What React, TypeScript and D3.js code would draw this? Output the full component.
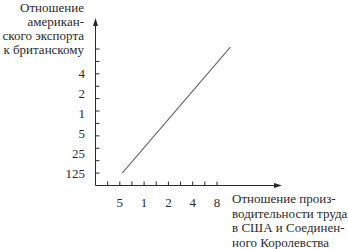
import React from "react";
import * as d3 from "d3";

const W = 348;
const H = 249;

// x ticks (index units) and their labels
const xTickIdx = [1, 2, 3, 4, 5, 6, 7, 8, 9, 10];
const xLabelIdx = [2, 4, 6, 8, 10];
const xLabels = ["5", "1", "2", "4", "8"];

// y ticks (index units) and labels
const yTickIdx = [1, 2, 3, 4, 5, 6, 7, 8, 9, 10, 11];
const yLabels = ["125", "25", "5", "1", "2", "4"];

// the straight line (index units)
const lineX = [2.2, 11.1];
const lineY = [1.0, 11.15];

const yTitle = ["Отношение", "американ-", "ского экспорта", "к британскому"];
const xTitle = ["Отношение произ-", "водительности труда", "в США и Соединен-", "ного Королевства"];

const FONT = "Liberation Serif";

function T(props: { x: number; y: number; anchor?: string; children: React.ReactNode }) {
  return (
    <text
      x={props.x}
      y={props.y}
      fontFamily={FONT}
      fontSize={13}
      style={{ fontFamily: `"${FONT}"`, fontSize: 13 }}
      textAnchor={props.anchor || "start"}
      fill="#2a2a2a"
    >
      {props.children}
    </text>
  );
}

export default function App() {
  const ox = 95.5;
  const oy = 185.5;
  const x = d3.scaleLinear().domain([0, 10]).range([ox, ox + 121.5]);
  const y = d3.scaleLinear().domain([0, 11]).range([oy, oy - 136.5]);
  const yLab = d3.scalePoint<string>().domain(yLabels).range([173, 73]);
  const line = d3
    .line<number>()
    .x((_, i) => x(lineX[i]))
    .y((d) => y(d));
  const ink = "#2a2a2a";
  const arrowTopY = 18;
  const arrowRightX = 282;

  return (
    <svg width={W} height={H} style={{ position: "fixed", left: 0, top: 0, background: "#fff" }}>
      <rect width={W} height={H} fill="#fff" />
      {/* axes */}
      <line x1={ox} y1={oy} x2={ox} y2={arrowTopY + 5} stroke={ink} strokeWidth={1} />
      <line x1={ox} y1={oy} x2={arrowRightX - 5} y2={oy} stroke={ink} strokeWidth={1} />
      <path
        d={`M${ox},${arrowTopY} L${ox - 2.5},${arrowTopY + 8} L${ox + 2.5},${arrowTopY + 8} Z`}
        fill={ink}
      />
      <path
        d={`M${arrowRightX},${oy} L${arrowRightX - 8},${oy - 2.5} L${arrowRightX - 8},${oy + 2.5} Z`}
        fill={ink}
      />
      {/* ticks */}
      {xTickIdx.map((t) => (
        <line key={"xt" + t} x1={x(t)} x2={x(t)} y1={oy} y2={oy - 4} stroke={ink} strokeWidth={1} />
      ))}
      {yTickIdx.map((t) => (
        <line key={"yt" + t} x1={ox} x2={ox + 4} y1={y(t)} y2={y(t)} stroke={ink} strokeWidth={1} />
      ))}
      {/* x labels */}
      {xLabelIdx.map((t, i) => (
        <T key={"xl" + t} x={x(t)} y={206.5} anchor="middle">
          {xLabels[i]}
        </T>
      ))}
      {/* y labels */}
      {yLabels.map((l) => (
        <T key={"yl" + l} x={85} y={(yLab(l) as number) + 4.5} anchor="end">
          {l}
        </T>
      ))}
      {/* data line */}
      <path d={line(lineY) || ""} fill="none" stroke="#666" strokeWidth={1.1} />
      {/* titles */}
      {yTitle.map((s, i) => (
        <T key={"yti" + i} x={84} y={11.5 + i * 14} anchor="end">
          {s}
        </T>
      ))}
      {xTitle.map((s, i) => (
        <T key={"xti" + i} x={232} y={203 + i * 14.5}>
          {s}
        </T>
      ))}
    </svg>
  );
}
